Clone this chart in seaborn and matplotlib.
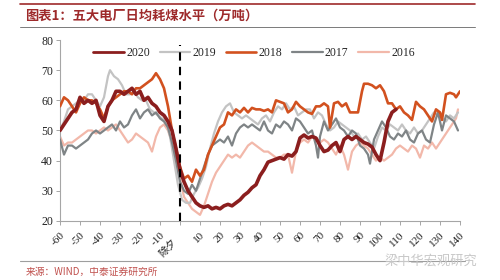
import matplotlib
matplotlib.use("Agg")
import matplotlib.pyplot as plt
import seaborn as sns
import pandas as pd

days_2020 = [-60,-57,-54,-52,-50,-48,-46,-44,-42,-40,-38,-36,-34,-32,-30,-28,-26,-24,-22,-20,-18,-16,-14,-12,-10,-8,-6,-4,-2,0,2,4,6,8,10,12,14,16,18,20,22,24,26,28,30,32,34,36,38,40,42,44,46,48,50,52,54,56,58,60,62,64,66,68,70,72,74,76,78,80,82,84,86,88,90,92,94,96,98,100,102,104,106,108]
vals_2020 = [50,53,56,57,61,59,60,59,60,55,53,58,60,63,63,62,63,64,62,63,60,61,59,58,56,55,53,50,44,37,33,30,28,26,25,24.5,25,24,24.5,24,25,25.5,25,26,27,28.5,29.5,31,32,35,37,39.5,40,40.5,41,40.5,42,41.5,43,47.5,48.5,47.5,48,47.5,45,43,43.5,45,46,43,47,48,47,48,47,46,45.5,44.5,42,40,46,53,56,57]

days_2018 = [-60,-58,-56,-54,-52,-50,-48,-46,-44,-42,-40,-38,-36,-34,-32,-30,-28,-26,-24,-22,-20,-18,-16,-14,-12,-10,-8,-6,-4,-2,0,2,4,6,8,10,12,14,16,18,20,22,24,26,28,30,32,34,36,38,40,42,44,46,48,50,52,54,56,58,60,62,64,66,68,70,72,74,75,77,79,81,83,85,87,89,91,92,94,96,98,100,102,104,106,108,110,112,114,116,118,120,122,124,126,128,130,131,133,135,137,138,140]
vals_2018 = [58,61,60,58,56,59,61,60,60,59,57,54,58,60,61,62,63,63,62,64,64,65,66,67,69,67,64,58,50,44,38,34,35,33,37,35,37,42,45,48,51,52,56,55,57,56,57.5,56,57.5,57,57,56.5,57,56,60,59.5,59,56,57,59.5,58,57,56,55.5,58,58,59,58,51,59,59.5,58,59,56,56,56,63,65.5,65.5,65,64,65,63,59,59,57,58,56,55,53.5,59.5,58,57,55,53,57,56,53.5,62,62.5,62,61,63]

days_2019 = [-60,-58,-56,-54,-52,-50,-48,-46,-44,-42,-40,-38,-36,-35,-33,-31,-29,-27,-25,-23,-21,-19,-17,-15,-13,-11,-9,-7,-5,-3,-1,1,3,5,7,9,11,13,15,17,19,21,23,25,27,29,31,33,35,37,39,41,43,45,47,49,51,53,55,57,59,61,63,65,67,69,71,73,75,77,79,81,83,85,87,89,91,93,95,97,99,101,103,105,107,109,111,113,115,117,119,121,123,125,127,129,131,133,135,137,139]
vals_2019 = [50,53,57,58,59,60,60,62,62,60,58,61,68,70,68,67,65,62,62,63,61,60,60,57,56,55,54,53,48,40,32,27,26,26,29,31,34,38,44,49,53,56,58,59,56,55,54,55,54,53,52,54,55,53,56,58,57,59,57,58,55,56,57,57,54,56,55,52,50,51,53,52,51,50,48,49,47,48,46,44,48,51,50,52,51,50,52,50,49,51,49,50,52,54,56,55,54,53,55,54,56]

days_2017 = [-60,-58,-56,-54,-52,-50,-48,-46,-44,-42,-40,-38,-36,-34,-32,-30,-28,-26,-24,-22,-20,-18,-16,-14,-12,-10,-8,-6,-4,-2,0,2,4,6,8,10,12,14,16,18,20,22,24,26,28,30,32,34,36,38,40,42,44,46,48,50,52,54,56,58,60,62,64,66,68,69,70,72,74,76,78,80,82,84,86,88,90,92,94,95,97,99,101,103,105,107,109,111,113,115,117,119,121,123,125,127,129,131,133,135,137,139]
vals_2017 = [47,42,45,45,44,45,46,47,49,50,49,50,51,52,50,53,51,52,55,57,54,56,57,55,56,54,53,51,46,40,33,30,29,32,30,34,38,42,45,46,47,46,48,45,49,51,52,51,52,51,50,53,50,49,52,51,53,52,50,54,53,51,49,50,45,41,48,53,50,52,54,51,50,48,50,49,45,44,42,39,47,50,53,51,48,47,49,48,50,47,46,49,50,47,46,52,56,50,55,54,53,50]

days_2016 = [-60,-58,-56,-54,-52,-50,-48,-46,-44,-42,-40,-38,-36,-34,-32,-30,-28,-26,-24,-22,-20,-18,-16,-14,-12,-10,-8,-6,-4,-2,0,2,4,6,8,10,12,14,16,18,20,22,24,26,28,30,32,34,36,38,40,42,44,46,48,50,52,54,56,58,60,62,64,66,68,70,72,74,76,78,80,82,84,86,88,90,92,94,96,98,100,102,104,106,108,110,112,114,116,118,120,122,124,126,128,130,132,134,136,138,139]
vals_2016 = [48,45,46,46,47,48,49,50,50,49,50,51,50,51,52,50,48,46,47,49,48,47,46,43,48,51,52,50,46,40,34,28,26,24,23,22,25,29,33,36,38,40,42,41,42,41,43,45,46,45,44,43,43,42,41,41,42,42,36,43,46,47,46,48,47,46,47,46,44,42,45,42,37,43,45,46,45,44,42,40,41,40,41,42,44,45,44,43,45,44,41,45,44,46,44,46,48,50,52,54,57]

x_ticks = list(range(-60, 141, 10))
x_labels = ["" if t == 0 else str(t) for t in x_ticks]
zero_label = "除夕"
y_ticks = [20, 30, 40, 50, 60, 70, 80]

series = [
    ("2020", days_2020, vals_2020, "#8b1e1e", 2.6),
    ("2019", days_2019, vals_2019, "#c3c3c3", 1.6),
    ("2018", days_2018, vals_2018, "#d2511f", 1.9),
    ("2017", days_2017, vals_2017, "#7f8486", 1.6),
    ("2016", days_2016, vals_2016, "#f2b8aa", 1.6),
]

sns.set_style("white")
plt.rcParams['font.family'] = ['Liberation Serif', 'Noto Sans CJK SC']

fig = plt.figure(figsize=(5, 2.8), dpi=100)
ax = fig.add_axes([0.12, 0.211, 0.80, 0.646])

zorders = {"2020": 6, "2019": 3, "2018": 5, "2017": 4, "2016": 2}
for name, d, v, c, lw in series:
    df = pd.DataFrame({"day": d, "value": v})
    sns.lineplot(data=df, x="day", y="value", ax=ax, color=c, linewidth=lw,
                 label=name, zorder=zorders[name])

ax.axvline(0, ymin=0, ymax=0.97, color="black", linestyle=(0, (4, 3)), linewidth=1.5, zorder=7)

ax.set_xlim(-60, 140)
ax.set_ylim(20, 80)
ax.set_xticks(x_ticks)
ax.set_xticklabels(x_labels, rotation=45, ha="right", rotation_mode="anchor", fontsize=8)
# label for day 0, placed just below the axis under its tick
fig.text(0.358, 0.152, zero_label, rotation=45, ha="right", va="top",
         rotation_mode="default", fontsize=7.5, color="#222222",
         family=['Noto Sans CJK SC'])
ax.set_yticks(y_ticks)
ax.set_yticklabels([str(t) for t in y_ticks], fontsize=8.5)
ax.set_xlabel("")
ax.set_ylabel("")
for s in ["top", "right"]:
    ax.spines[s].set_visible(False)
for s in ["left", "bottom"]:
    ax.spines[s].set_color("#a6a6a6")
    ax.spines[s].set_linewidth(0.8)
ax.tick_params(axis="both", which="both", length=3, width=0.7, color="#a6a6a6",
               direction="out", bottom=True, left=True, pad=2, labelcolor="#222222")
ax.tick_params(axis="x", pad=4)

leg = ax.legend(loc="upper center", bbox_to_anchor=(0.485, 1.02), ncol=5, frameon=False,
                fontsize=8.5, handlelength=2.6, columnspacing=0.8, handletextpad=0.2)
for h in leg.get_lines():
    h.set_linewidth(min(h.get_linewidth(), 2.0))

# title and decorations
fig.add_artist(plt.Line2D([0.04, 0.95], [0.986, 0.986], color="#9e2a2b", linewidth=1.2))
fig.text(0.05, 0.945, "图表1：五大电厂日均耗煤水平（万吨）", fontsize=9.5, fontweight="bold",
         color="#9e2a2b", va="center", family=['Noto Sans CJK SC'])
fig.add_artist(plt.Line2D([0.04, 0.95], [0.904, 0.904], color="#7a7a7a", linewidth=0.7))
fig.add_artist(plt.Line2D([0.04, 0.93], [0.068, 0.068], color="#9e9e9e", linewidth=0.8))
fig.text(0.052, 0.028, "来源：WIND，中泰证券研究所", fontsize=7, color="#c0504d", va="center",
         family=['Noto Sans CJK SC'])
fig.text(0.77, 0.068, "梁中华宏观研究", fontsize=9.5, color="#c8c8c8", va="center",
         family=['Noto Sans CJK SC'])

fig.savefig("out.png", dpi=100)
